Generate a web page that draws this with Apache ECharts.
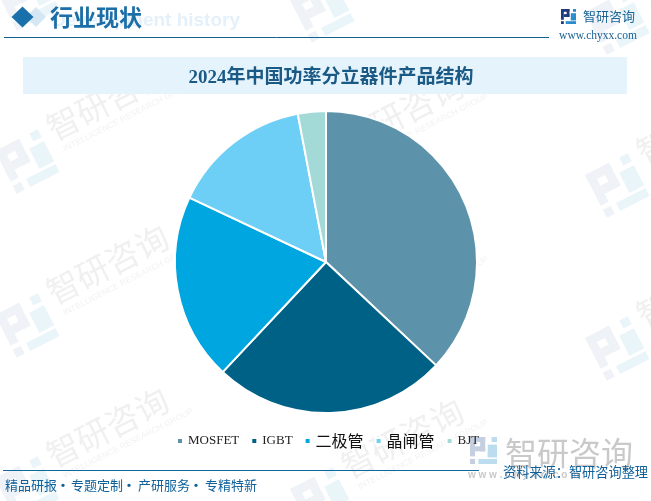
<!DOCTYPE html>
<html>
<head>
<meta charset="utf-8">
<style>
  html, body { margin: 0; padding: 0; background: #fff; }
  #chart { width: 651px; height: 501px; }
</style>
<script src="https://cdn.jsdelivr.net/npm/echarts@6/dist/echarts.min.js"></script>
</head>
<body>
<div id="chart"></div>
<script>
// 产品结构占比（%）
const categories = ['MOSFET', 'IGBT', '二极管', '晶闸管', 'BJT']
const shares = [37, 25, 20, 15, 3]
const sliceColors = ['#5d93aa', '#006187', '#00a6df', '#6dcff6', '#a3dad8']

const chartTitle = '2024年中国功率分立器件产品结构'
const sectionTitle = '行业现状'
const sectionGhost = 'Development history'
const footerItems = ['精品研报', '专题定制', '产研服务', '专精特新']
const footerX = [5, 71, 138, 205]
const sourceText = '资料来源：智研咨询整理'

const CJK = '"Noto Sans CJK SC", sans-serif'
const SERIF_BOLD = '"Liberation Serif", "Noto Sans CJK SC", serif'

// logo：16x16 小格
function logo(x, y, size, rotation, c1, c2, z) {
  const s = size / 16
  const r = (a, b, w, h, fill) => ({ type: 'rect', shape: { x: a * s, y: b * s, width: w * s, height: h * s }, style: { fill }, z })
  return {
    type: 'group', x, y, rotation, silent: true,
    children: [
      r(0, 0, 9, 3, c1), r(6, 0, 3, 8.5, c1), r(3, 5.5, 6, 3, c1), r(0, 0, 3, 11.5, c1), r(0, 13, 3, 3, c1),
      r(12.8, 0, 3.2, 3, c2), r(13, 4.5, 3, 7.5, c2), r(10.5, 9, 5.5, 3, c2), r(10.5, 4.5, 3, 7.5, c2), r(5, 13, 11, 3, c2)
    ]
  }
}

// 背景水印
function watermark(cx, cy) {
  const rot = 27 * Math.PI / 180
  const items = []
  items.push(logo(cx - 30, cy - 12, 48, rot, '#eff2f6', '#eaf5fa', 0))
  items.push({
    type: 'group', x: cx + 31, y: cy - 18, rotation: rot, silent: true,
    children: [
      { type: 'text', x: 0, y: 0, z: 0, style: { text: '智研咨询', fill: '#f0f0f0', font: '33px ' + CJK, textVerticalAlign: 'bottom' } },
      { type: 'text', x: 5, y: 3, z: 0, style: { text: 'INTELLIGENCE RESEARCH GROUP', fill: '#f2f2f2', font: '8.5px "Liberation Sans", sans-serif' } }
    ]
  })
  return items
}

const marks = []
;[[25, 0], [25, 163], [25, 327], [25, 490], [320, 12], [320, 175], [320, 338], [320, 501], [615, 24], [615, 187], [615, 350]].forEach(p => {
  marks.push(...watermark(p[0], p[1]))
})

const header = [
  { type: 'polygon', z: 3, shape: { points: [[36, 7], [46, 17], [36, 27], [26, 17]] }, style: { fill: '#d4e7f3' } },
  { type: 'polygon', z: 3, shape: { points: [[22.5, 6.5], [33.5, 17], [22.5, 27.5], [11.5, 17]] }, style: { fill: '#1a70ab' } },
  { type: 'text', z: 3, x: 240, y: 21, style: { text: sectionGhost, fill: '#e4f1fb', font: 'bold 19px "Liberation Sans", sans-serif', textAlign: 'right', textVerticalAlign: 'middle' } },
  { type: 'text', z: 3, x: 50, y: 17, style: { text: sectionTitle, fill: '#1b6ea6', font: 'bold 23px ' + CJK, textVerticalAlign: 'middle' } },
  { type: 'line', z: 3, shape: { x1: 4, y1: 37.5, x2: 549, y2: 37.5 }, style: { stroke: '#10618f', lineWidth: 1 } },
  logo(561, 9, 15, 0, '#1f3a7d', '#2a8ccd', 3),
  { type: 'text', z: 3, x: 583, y: 16, style: { text: '智研咨询', fill: '#1b6496', font: '13px ' + CJK, textVerticalAlign: 'middle' } },
  { type: 'text', z: 3, x: 598, y: 36, style: { text: 'www.chyxx.com', fill: '#1b6496', font: '11.5px "Liberation Serif", serif', textAlign: 'center', textVerticalAlign: 'middle' } },
  { type: 'rect', z: 1, shape: { x: 23, y: 57, width: 604, height: 37 }, style: { fill: '#e5f3fc' } }
]

const footer = [
  logo(470, 437, 27, 0, '#c6cfdf', '#bcdcf0', 3),
  { type: 'text', z: 3, x: 505, y: 453, style: { text: '智研咨询', fill: '#c9c9c9', font: '32px ' + CJK, textVerticalAlign: 'middle' } },
  { type: 'text', z: 3, x: 468, y: 475, style: { text: 'w w w . c h y x x . c o m', fill: '#c9c9c9', font: 'bold 10px "Liberation Sans", sans-serif', textVerticalAlign: 'middle' } },
  { type: 'line', z: 4, shape: { x1: 3, y1: 470.5, x2: 479, y2: 470.5 }, style: { stroke: '#10699c', lineWidth: 1 } },
  { type: 'text', z: 4, x: 648, y: 472, style: { text: sourceText, fill: '#10619a', font: '13.2px ' + CJK, textAlign: 'right', textVerticalAlign: 'middle' } }
]
footerItems.forEach((t, i) => {
  footer.push({ type: 'text', z: 4, x: footerX[i], y: 485, style: { text: t, fill: '#10619a', font: '13px ' + CJK, textVerticalAlign: 'middle' } })
  if (i < footerItems.length - 1) {
    footer.push({ type: 'text', z: 4, x: footerX[i] + 58, y: 485, style: { text: '·', fill: '#10619a', font: 'bold 13px ' + CJK, textAlign: 'center', textVerticalAlign: 'middle' } })
  }
})

const myChart = echarts.init(document.getElementById('chart'))
myChart.setOption({
  animation: false,
  backgroundColor: '#fff',
  title: {
    text: chartTitle,
    left: 326,
    top: 64,
    textAlign: 'center',
    textStyle: { color: '#1a5a85', fontSize: 19, fontWeight: 'bold', fontFamily: SERIF_BOLD }
  },
  legend: {
    left: 171,
    top: 428,
    icon: 'rect',
    itemWidth: 6,
    itemHeight: 6,
    itemGap: 11,
    data: categories,
    formatter: name => /^[A-Z]+$/.test(name) ? '{latin|' + name + '}' : '{cjk|' + name + '}',
    textStyle: {
      rich: {
        latin: { fontFamily: '"Liberation Serif", serif', fontSize: 13, color: '#222' },
        cjk: { fontFamily: CJK, fontSize: 16, color: '#111' }
      }
    }
  },
  graphic: { elements: [...marks, ...header, ...footer] },
  series: [{
    type: 'pie',
    center: [326, 262],
    radius: [0, 151],
    startAngle: 90,
    silent: true,
    label: { show: false },
    labelLine: { show: false },
    itemStyle: { borderColor: '#fff', borderWidth: 2 },
    data: categories.map((name, i) => ({ name, value: shares[i], itemStyle: { color: sliceColors[i] } }))
  }]
})
</script>
</body>
</html>
